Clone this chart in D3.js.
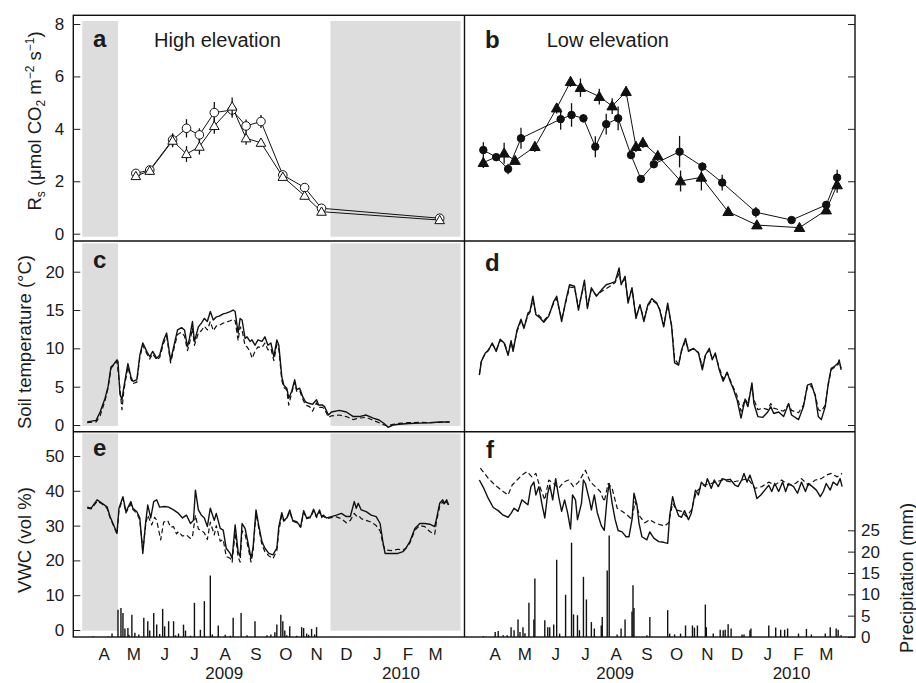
<!DOCTYPE html>
<html>
<head>
<meta charset="utf-8">
<title>Soil respiration, temperature and moisture</title>
<script src="https://cdn.jsdelivr.net/npm/d3@7"></script>
<style>
  body { margin: 0; background: #fff; }
  text { font-family: "Liberation Sans", Arial, Helvetica, sans-serif; fill: #1a1a1a; }
</style>
</head>
<body>
<svg width="916" height="683"></svg>
<script>
// ---- data (days counted from 16 Mar 2009) ----
var monthLabels = ["A","M","J","J","A","S","O","N","D","J","F","M"];
var yearLabels = [{year:"2009", day:152}, {year:"2010", day:330}];
var winterBands = [[9, 45], [259, 390]];

// panel a : high elevation soil respiration
var rsHighDates = ["2009-05-18","2009-06-01","2009-06-24","2009-07-08","2009-07-21","2009-08-05","2009-08-23","2009-09-06","2009-09-21","2009-10-13","2009-11-04","2009-11-21","2010-03-20"];
var rsHighCircle = [2.3,2.43,3.58,4.02,3.77,4.62,4.72,4.11,4.28,2.24,1.76,0.97,0.59];
var rsHighCircleErr = [0.1,0.1,0.25,0.35,0.25,0.4,0.3,0.25,0.25,0.1,0.15,0.1,0.1];
var rsHighTri = [2.2,2.4,3.55,3.04,3.32,4.11,4.85,3.64,3.47,2.17,1.45,0.84,0.52];
var rsHighTriErr = [0.1,0.1,0.25,0.3,0.3,0.3,0.35,0.25,0.15,0.1,0.15,0.1,0.1];

// panel b : low elevation soil respiration
var rsLowCircleDates = ["2009-04-04","2009-04-17","2009-04-29","2009-05-12","2009-06-21","2009-07-02","2009-07-14","2009-07-26","2009-08-06","2009-08-18","2009-08-31","2009-09-10","2009-09-23","2009-10-19","2009-11-11","2009-12-01","2010-01-04","2010-02-09","2010-03-16","2010-03-27"];
var rsLowCircle = [3.19,2.92,2.47,3.64,4.37,4.53,4.4,3.32,4.18,4.4,3.0,2.09,2.65,3.13,2.56,1.95,0.82,0.52,1.1,2.14];
var rsLowCircleErr = [0.3,0.1,0.2,0.4,0.4,0.45,0.15,0.4,0.4,0.45,0.15,0.1,0.1,0.6,0.15,0.3,0.2,0.1,0.1,0.3];
var rsLowTriDates = ["2009-04-04","2009-04-25","2009-05-06","2009-05-26","2009-06-17","2009-07-01","2009-07-11","2009-07-30","2009-08-12","2009-08-26","2009-09-05","2009-09-12","2009-09-27","2009-10-20","2009-11-10","2009-12-07","2010-01-05","2010-02-17","2010-03-16","2010-03-27"];
var rsLowTri = [2.71,3.07,2.79,3.32,4.79,5.8,5.57,5.23,4.87,5.42,3.32,3.47,2.97,2.01,2.15,0.84,0.33,0.23,0.9,1.86];
var rsLowTriErr = [0.2,0.4,0.1,0.2,0.2,0.2,0.35,0.3,0.3,0.2,0.2,0.2,0.2,0.4,0.5,0.1,0.1,0.1,0.1,0.3];

// panel c : soil temperature high elevation [day, degC]
var tempHighSolid = [[14,0.4],[23,0.6],[27,1.7],[32,3.5],[35,5.0],[38,7.6],[40,7.8],[44,8.5],[45,8.3],[47,4.0],[49,3.3],[51,5.0],[55,8.0],[58,6.3],[60,5.7],[64,5.9],[67,9.1],[70,10.7],[74,9.6],[77,8.9],[80,9.6],[84,8.7],[87,9.1],[91,11.1],[94,12.0],[98,8.4],[102,10.7],[105,12.4],[109,12.7],[112,12.4],[115,10.2],[117,11.3],[120,13.5],[122,10.9],[126,12.8],[129,13.3],[132,13.9],[135,13.5],[138,14.8],[141,13.7],[144,14.1],[147,14.2],[151,14.5],[154,14.6],[158,14.8],[161,15.0],[163,14.8],[166,12.0],[168,13.9],[170,13.7],[173,11.3],[175,11.5],[178,10.9],[180,11.1],[183,10.4],[186,11.1],[190,10.9],[193,11.5],[196,10.4],[199,10.7],[202,8.9],[205,11.1],[207,10.4],[210,6.3],[212,5.2],[215,4.8],[217,3.5],[220,4.4],[223,5.9],[225,4.6],[228,4.8],[231,3.7],[234,3.0],[238,2.8],[241,2.7],[245,3.3],[247,2.6],[251,2.6],[253,2.4],[257,1.3],[260,1.7],[268,1.9],[275,1.7],[282,1.1],[288,1.1],[295,1.3],[302,0.9],[308,0.65],[313,0.2],[317,-0.3],[322,0.0],[328,0.1],[338,0.2],[349,0.25],[359,0.3],[369,0.4],[379,0.4]];
var tempHighDashed = [[14,0.3],[23,0.4],[27,1.2],[32,3.2],[35,4.8],[38,7.4],[40,7.7],[44,8.3],[46,6.0],[49,2.0],[51,4.6],[55,7.6],[58,6.0],[60,5.4],[64,5.6],[67,8.8],[70,10.4],[74,9.3],[77,8.6],[80,9.3],[84,8.5],[87,8.8],[91,10.7],[94,11.6],[98,8.1],[102,10.3],[105,11.8],[109,12.1],[112,11.6],[115,9.7],[117,10.6],[120,12.6],[122,10.4],[126,12.0],[129,12.3],[132,12.9],[135,12.4],[138,13.5],[141,12.3],[144,12.9],[147,13.0],[151,13.3],[154,13.4],[158,13.6],[161,13.8],[163,13.6],[166,11.0],[168,12.8],[170,12.4],[173,10.3],[175,10.2],[178,9.6],[180,8.7],[183,9.6],[186,10.2],[190,10.1],[193,10.7],[196,9.8],[199,10.0],[202,8.4],[205,10.5],[207,9.9],[210,5.8],[212,4.9],[215,4.6],[217,2.6],[220,4.2],[223,5.6],[225,4.4],[228,4.5],[231,3.4],[234,2.6],[238,2.4],[241,1.8],[245,2.9],[247,2.3],[251,2.3],[253,2.1],[257,1.0],[260,1.2],[268,1.3],[275,1.1],[282,0.7],[288,0.9],[295,1.0],[302,0.6],[308,0.3],[313,0.0],[317,-0.1],[322,0.1],[328,0.2],[338,0.3],[349,0.35],[359,0.3],[369,0.35],[379,0.4]];

// panel d : soil temperature low elevation
var tempLowSolid = [[15,6.5],[17,8.3],[21,9.4],[24,9.7],[28,10.7],[32,9.6],[36,11.2],[40,10.7],[44,9.1],[47,11.0],[49,9.6],[53,12.4],[57,13.8],[60,12.6],[64,14.6],[66,14.8],[69,16.8],[72,14.4],[76,14.0],[80,13.4],[85,14.2],[90,16.1],[93,16.8],[98,13.5],[102,16.1],[106,18.3],[111,18.1],[115,15.0],[121,18.9],[124,15.2],[128,17.9],[133,16.8],[138,17.6],[143,18.3],[148,18.5],[152,18.7],[156,20.5],[158,18.3],[162,19.4],[165,15.9],[169,17.9],[173,13.9],[177,15.7],[181,13.5],[185,15.7],[189,16.5],[194,15.9],[197,15.0],[201,12.8],[205,15.9],[209,12.8],[212,8.1],[216,7.8],[219,9.8],[223,11.3],[226,9.6],[231,10.0],[236,9.4],[240,7.2],[243,9.1],[247,10.0],[250,8.5],[253,9.4],[257,7.2],[261,5.7],[265,6.9],[268,5.7],[271,4.8],[275,3.3],[279,0.9],[283,3.3],[286,2.4],[290,5.5],[292,2.8],[296,1.1],[301,1.0],[306,1.7],[309,2.4],[312,1.5],[317,1.7],[322,1.1],[327,2.8],[330,1.3],[337,0.7],[342,2.4],[346,5.2],[350,5.4],[354,3.7],[357,1.1],[360,0.7],[364,2.4],[367,5.4],[370,7.4],[373,7.6],[377,8.1],[378,8.5],[380,7.2]];
var tempLowDashed = [[15,6.6],[17,8.4],[21,9.3],[24,9.8],[28,10.5],[32,9.8],[36,11.0],[40,10.8],[44,9.3],[47,10.8],[49,9.8],[53,12.2],[57,13.6],[60,12.8],[64,14.3],[66,14.7],[69,16.3],[72,14.6],[76,14.2],[80,13.6],[85,14.3],[90,15.9],[93,16.5],[98,13.8],[102,15.9],[106,18.0],[111,17.9],[115,15.3],[121,18.5],[124,15.5],[128,17.7],[133,16.9],[138,17.4],[143,17.8],[148,18.2],[152,18.6],[156,19.8],[158,18.5],[162,19.0],[165,16.3],[169,17.7],[173,14.2],[177,15.6],[181,13.8],[185,15.5],[189,16.3],[194,15.8],[197,15.1],[201,13.0],[205,15.6],[209,13.0],[212,8.6],[216,7.9],[219,9.6],[223,11.0],[226,9.8],[231,9.9],[236,9.5],[240,7.6],[243,9.0],[247,9.8],[250,8.7],[253,9.2],[257,7.5],[261,6.0],[265,6.8],[268,5.9],[271,5.0],[275,3.8],[279,1.8],[283,3.4],[286,2.8],[290,5.2],[292,3.3],[296,2.0],[301,2.2],[306,2.0],[309,2.8],[312,2.2],[317,2.0],[322,1.8],[327,2.7],[330,1.9],[337,1.6],[342,2.6],[346,5.0],[350,5.1],[354,3.9],[357,2.0],[360,1.8],[364,2.6],[367,5.2],[370,7.2],[373,7.5],[377,7.9],[378,8.3],[380,7.4]];

// panel e : VWC high elevation
var vwcHighSolid = [[14,35.3],[18,35.0],[24,37.4],[29,36.4],[34,35.4],[37,32.6],[41,29.9],[44,27.8],[46,35.0],[50,38.3],[53,34.0],[58,36.9],[60,35.0],[64,34.0],[67,32.2],[70,22.0],[73,31.3],[75,35.9],[78,32.2],[81,36.9],[84,37.4],[87,35.3],[92,35.5],[96,35.3],[101,34.5],[106,33.5],[110,32.2],[114,33.0],[118,30.6],[121,31.5],[123,40.2],[126,34.5],[129,33.0],[132,32.2],[135,29.7],[138,35.0],[142,31.5],[144,33.5],[148,29.2],[151,28.7],[154,23.5],[158,22.0],[160,20.6],[163,30.2],[166,22.5],[168,21.1],[170,30.6],[173,29.2],[176,25.0],[179,20.6],[181,23.5],[184,34.5],[187,29.7],[190,25.4],[193,23.5],[197,22.0],[201,21.6],[205,23.5],[207,29.7],[210,33.7],[212,31.5],[215,32.2],[218,34.5],[221,31.5],[225,31.1],[229,29.7],[232,34.3],[235,32.2],[239,32.6],[242,34.7],[245,32.6],[248,34.5],[250,32.6],[252,33.0],[255,32.2],[260,32.6],[265,33.0],[270,33.5],[275,32.6],[279,32.6],[283,36.9],[285,35.0],[287,36.4],[290,34.5],[295,34.0],[300,33.0],[305,32.6],[309,30.6],[312,25.0],[314,22.0],[320,22.0],[327,22.0],[332,22.5],[335,23.5],[339,25.4],[344,29.2],[349,30.6],[354,30.6],[359,30.4],[364,29.7],[366,32.2],[369,36.4],[372,37.4],[374,36.4],[376,37.4],[378,35.9]];
var vwcHighDashed = [[14,35.0],[18,34.8],[24,37.0],[29,36.2],[34,35.0],[37,32.3],[41,29.6],[44,27.6],[46,34.5],[50,37.8],[53,33.6],[58,36.2],[60,34.6],[64,33.5],[67,31.6],[70,23.0],[73,30.5],[75,33.0],[79,30.2],[82,32.4],[84,31.5],[88,25.9],[91,31.0],[95,31.5],[98,29.5],[101,29.7],[104,27.6],[106,28.3],[110,27.0],[114,27.3],[118,26.3],[120,26.8],[123,33.0],[126,29.0],[129,28.6],[132,27.9],[135,26.0],[138,31.0],[142,27.3],[144,30.0],[148,25.5],[151,26.0],[154,21.1],[158,20.6],[160,19.5],[163,28.0],[166,21.0],[168,19.5],[170,28.5],[173,27.5],[176,23.8],[179,19.5],[181,22.5],[184,33.5],[187,29.0],[190,24.5],[193,22.5],[197,21.3],[201,20.5],[205,22.8],[207,28.5],[210,33.0],[212,31.2],[215,32.0],[218,34.0],[221,31.3],[225,30.8],[229,29.5],[232,33.8],[235,32.0],[239,32.3],[242,34.2],[245,32.3],[248,34.0],[250,32.3],[252,32.7],[255,32.0],[260,32.3],[265,32.5],[270,32.0],[275,30.8],[279,31.5],[283,33.5],[285,32.8],[287,33.0],[290,32.0],[295,31.5],[300,31.0],[305,30.0],[309,28.5],[312,24.5],[314,23.0],[320,22.8],[327,23.2],[332,23.0],[335,23.5],[339,25.0],[344,28.7],[349,30.0],[354,29.7],[359,28.3],[364,27.5],[366,31.5],[369,35.5],[372,36.8],[374,36.0],[376,37.0],[378,35.5]];

// panel f : VWC low elevation
var vwcLowSolid = [[15,43.1],[19,41.0],[24,37.8],[29,35.2],[34,34.3],[39,33.0],[44,32.4],[47,33.5],[50,35.0],[54,34.1],[58,37.4],[60,36.9],[64,36.0],[67,41.2],[70,42.5],[72,38.8],[75,41.2],[78,36.4],[81,32.2],[84,39.3],[86,41.6],[89,37.4],[92,43.5],[95,38.3],[98,34.1],[101,37.4],[104,33.7],[107,29.0],[109,38.8],[112,37.4],[114,31.7],[118,36.4],[120,43.1],[122,42.1],[126,37.4],[128,34.5],[131,38.8],[134,33.7],[138,30.0],[141,28.6],[144,38.3],[146,42.1],[149,36.4],[152,31.7],[155,28.6],[159,28.2],[163,26.8],[166,26.8],[169,31.7],[171,39.3],[174,36.0],[176,30.8],[179,26.8],[184,25.9],[187,28.2],[191,26.4],[196,25.4],[201,25.2],[205,24.9],[207,32.8],[210,38.3],[212,36.0],[216,32.8],[219,32.4],[222,34.3],[226,31.7],[229,33.7],[233,40.2],[236,38.8],[239,42.5],[243,41.2],[245,43.5],[249,40.7],[252,43.1],[256,41.2],[260,43.5],[264,43.1],[268,43.3],[273,41.6],[276,41.2],[280,43.3],[282,45.0],[285,42.5],[288,44.5],[292,41.2],[295,37.8],[299,38.8],[303,40.2],[307,41.6],[310,39.8],[313,42.1],[317,39.8],[321,42.5],[324,39.8],[327,42.1],[332,41.2],[336,39.3],[340,42.5],[344,39.8],[347,42.1],[351,41.2],[355,40.2],[359,38.3],[362,39.8],[365,42.1],[369,40.2],[372,42.5],[376,41.6],[379,43.5],[381,41.2]];
var vwcLowDashed = [[16,46.5],[24,43.6],[31,41.6],[39,39.8],[44,38.8],[48,41.6],[53,43.1],[58,44.5],[63,45.5],[68,44.0],[72,45.0],[76,41.2],[81,37.4],[85,43.1],[90,42.1],[95,40.7],[100,42.5],[105,43.1],[110,41.2],[115,42.5],[122,45.9],[127,42.5],[132,41.2],[137,39.8],[141,36.9],[145,42.1],[149,40.7],[154,35.0],[159,34.1],[164,33.1],[169,31.7],[172,36.9],[177,32.6],[182,30.8],[187,31.7],[192,30.8],[197,30.3],[202,29.9],[206,30.8],[210,36.4],[214,34.5],[219,34.1],[224,32.6],[229,34.5],[234,39.8],[241,41.6],[249,42.1],[260,43.1],[270,42.5],[280,43.1],[286,43.5],[293,40.7],[300,41.2],[307,42.5],[313,41.6],[320,43.1],[327,41.6],[334,42.1],[340,43.5],[347,41.6],[354,43.1],[360,43.5],[365,44.5],[370,45.0],[376,44.0],[381,45.0]];

// daily precipitation [day, mm]
var precipHigh = [[20,0.2],[35,0.2],[39,0.8],[45,6.4],[48,6.8],[50,5.6],[52,2.0],[55,2.1],[56,0.5],[59,5.2],[62,1.0],[66,0.6],[71,4.5],[75,3.7],[77,1.5],[81,5.6],[84,2.9],[87,0.7],[90,6.6],[92,2.5],[96,3.7],[101,3.7],[103,0.4],[106,0.8],[111,2.9],[113,1.5],[118,0.3],[122,8.0],[128,1.7],[132,8.4],[138,14.4],[140,0.6],[146,2.7],[153,0.5],[158,0.3],[161,4.5],[169,5.6],[175,0.4],[183,3.7],[195,0.4],[199,0.6],[203,1.1],[205,2.9],[209,5.2],[211,3.7],[213,1.5],[215,0.4],[218,2.5],[225,0.3],[230,2.3],[232,2.1],[235,0.8],[237,0.5],[240,1.9],[243,0.6],[245,2.3]];
var precipLow = [[19,0.2],[31,1.2],[34,1.4],[39,0.4],[43,0.4],[47,2.3],[50,1.6],[54,4.1],[56,1.2],[59,2.3],[61,0.9],[65,8.0],[70,4.1],[71,13.7],[81,3.9],[84,2.3],[86,2.3],[90,2.9],[93,18.1],[96,0.8],[102,9.9],[108,22.1],[110,5.3],[114,5.1],[116,1.6],[120,14.1],[123,8.8],[128,3.5],[131,2.0],[138,2.7],[139,4.7],[144,15.6],[146,23.8],[154,0.6],[158,2.0],[162,4.1],[169,6.0],[170,12.1],[171,6.8],[184,0.4],[187,4.7],[205,6.3],[207,0.8],[212,0.6],[218,0.8],[223,2.7],[230,2.7],[232,2.2],[235,2.7],[243,7.6],[244,2.3],[251,0.8],[258,1.7],[261,1.6],[263,1.7],[266,3.0],[269,2.0],[280,0.6],[282,0.6],[288,1.6],[289,2.0],[307,2.7],[314,2.2],[319,1.7],[323,1.7],[326,2.0],[337,0.8],[345,1.9],[350,0.6],[364,0.8],[369,2.3],[375,2.0],[377,1.7],[380,0.4]];

// ---- layout ----
var svg = d3.select("svg");
var L = 73.3, M = 464.5, R = 855;
var rowTop = [15.3, 241, 431.7], rowBottom = 637;
var t0 = new Date(2009, 2, 16);
function dayDate(d) { return new Date(t0.getTime() + d * 864e5); }
var parse = d3.timeParse("%Y-%m-%d");
var xDom = [dayDate(0), dayDate(394)];
var xLeft = d3.scaleTime().domain(xDom).range([L, M]);
var xRight = d3.scaleTime().domain(xDom).range([M, R]);

var yRs = d3.scaleLinear().domain([0, 8]).range([233.7, 24]);
var yT = d3.scaleLinear().domain([0, 20]).range([425, 271.7]);
var yV = d3.scaleLinear().domain([0, 50]).range([630, 456]);
var yP = d3.scaleLinear().domain([0, 25]).range([637, 530.3]);

// gray shading (left column only), vertical extent per row
var bandY = [[21, 236.7], [243.3, 426], [433.5, 630.7]];
bandY.forEach(function(by) {
  svg.selectAll(null).data(winterBands).enter().append("rect")
    .attr("x", function(d){ return xLeft(dayDate(d[0])); })
    .attr("width", function(d){ return xLeft(dayDate(d[1])) - xLeft(dayDate(d[0])); })
    .attr("y", by[0]).attr("height", by[1] - by[0])
    .attr("fill", "#dddddd");
});

// ---- precipitation bars ----
function bars(data, x) {
  svg.append("g").selectAll("line").data(data).enter().append("line")
    .attr("x1", function(d){ return x(dayDate(d[0])); })
    .attr("x2", function(d){ return x(dayDate(d[0])); })
    .attr("y1", yP(0)).attr("y2", function(d){ return yP(d[1]); })
    .attr("stroke", "#111").attr("stroke-width", 1.4);
}
bars(precipHigh, xLeft);
bars(precipLow, xRight);

// ---- daily lines ----
function series(data, x, y, dashed) {
  var line = d3.line().x(function(d){ return x(dayDate(d[0])); }).y(function(d){ return y(d[1]); });
  svg.append("path").datum(data).attr("d", line)
    .attr("fill", "none").attr("stroke", "#111")
    .attr("stroke-width", dashed ? 1.2 : 1.4)
    .attr("stroke-dasharray", dashed ? "5,3" : null)
    .attr("stroke-linejoin", "round");
}
series(tempHighDashed, xLeft, yT, true);
series(tempHighSolid, xLeft, yT, false);
series(tempLowDashed, xRight, yT, true);
series(tempLowSolid, xRight, yT, false);
series(vwcHighDashed, xLeft, yV, true);
series(vwcHighSolid, xLeft, yV, false);
series(vwcLowDashed, xRight, yV, true);
series(vwcLowSolid, xRight, yV, false);

// ---- respiration panels ----
function rsSeries(dates, vals, errs, x) {
  var pts = dates.map(function(d, i){ return {date: parse(d), v: vals[i], e: errs[i]}; });
  var line = d3.line().x(function(d){ return x(d.date); }).y(function(d){ return yRs(d.v); });
  svg.append("path").datum(pts).attr("d", line)
    .attr("fill", "none").attr("stroke", "#111").attr("stroke-width", 1);
  return pts;
}
function rsMarks(pts, x, shape, filled) {
  var g = svg.append("g");
  g.selectAll("line").data(pts).enter().append("line")
    .attr("x1", function(d){ return x(d.date); }).attr("x2", function(d){ return x(d.date); })
    .attr("y1", function(d){ return yRs(d.v - d.e); }).attr("y2", function(d){ return yRs(d.v + d.e); })
    .attr("stroke", "#111").attr("stroke-width", 1.3);
  var sym = shape === "circle"
    ? d3.symbol().type(d3.symbolCircle).size(filled ? 44 : 58)
    : d3.symbol().type(d3.symbolTriangle).size(filled ? 48 : 40);
  g.selectAll("path").data(pts).enter().append("path")
    .attr("d", sym)
    .attr("transform", function(d){ return "translate(" + x(d.date) + "," + (yRs(d.v) + (shape === "circle" ? 0 : 0.8)) + ")"; })
    .attr("fill", filled ? "#111" : "#fff")
    .attr("stroke", "#111").attr("stroke-width", 1);
}
var aC = rsSeries(rsHighDates, rsHighCircle, rsHighCircleErr, xLeft);
var aT = rsSeries(rsHighDates, rsHighTri, rsHighTriErr, xLeft);
rsMarks(aC, xLeft, "circle", false);
rsMarks(aT, xLeft, "triangle", false);
var bC = rsSeries(rsLowCircleDates, rsLowCircle, rsLowCircleErr, xRight);
var bT = rsSeries(rsLowTriDates, rsLowTri, rsLowTriErr, xRight);
rsMarks(bC, xRight, "circle", true);
rsMarks(bT, xRight, "triangle", true);

// ---- frame ----
var frame = svg.append("g").attr("stroke", "#111").attr("stroke-width", 1.4).attr("fill", "none");
frame.append("rect").attr("x", L).attr("y", rowTop[0]).attr("width", R - L).attr("height", rowBottom - rowTop[0]);
frame.append("line").attr("x1", M).attr("x2", M).attr("y1", rowTop[0]).attr("y2", rowBottom);
frame.append("line").attr("x1", L).attr("x2", R).attr("y1", rowTop[1]).attr("y2", rowTop[1]);
frame.append("line").attr("x1", L).attr("x2", R).attr("y1", rowTop[2]).attr("y2", rowTop[2]);

// ---- axes ----
function styleAxis(g, size) {
  g.select(".domain").remove();
  g.selectAll(".tick line").attr("stroke", "#222").attr("stroke-width", 1);
  g.selectAll(".tick text").style("font-size", size + "px").attr("fill", "#1a1a1a")
    .style("font-family", "'Liberation Sans', Arial, Helvetica, sans-serif");
}
function leftAxis(y, vals) {
  svg.append("g").attr("transform", "translate(" + L + ",0)")
    .call(d3.axisLeft(y).tickValues(vals).tickSize(-7).tickPadding(9))
    .call(styleAxis, 17);
}
function rightAxis(y, vals, labels) {
  var ax = d3.axisRight(y).tickValues(vals).tickSize(-7).tickPadding(6);
  if (!labels) ax.tickFormat("");
  svg.append("g").attr("transform", "translate(" + R + ",0)").call(ax).call(styleAxis, 17);
}
leftAxis(yRs, [0, 2, 4, 6, 8]);
leftAxis(yT, [0, 5, 10, 15, 20]);
leftAxis(yV, [0, 10, 20, 30, 40, 50]);
rightAxis(yRs, [0, 2, 4, 6, 8], false);
rightAxis(yT, [0, 5, 10, 15, 20], false);
rightAxis(yP, [0, 5, 10, 15, 20, 25], true);

// month and year labels
var monthDates = d3.timeMonth.range(new Date(2009, 3, 1), new Date(2010, 3, 1))
  .map(function(d){ return d3.timeDay.offset(d, 15); });
[xLeft, xRight].forEach(function(x) {
  svg.append("g").selectAll("text").data(monthDates).enter().append("text")
    .attr("x", function(d){ return x(d); }).attr("y", 660)
    .attr("text-anchor", "middle").style("font-size", "17px")
    .text(function(d, i){ return monthLabels[i]; });
  svg.append("g").selectAll("text").data(yearLabels).enter().append("text")
    .attr("x", function(d){ return x(dayDate(d.day)); }).attr("y", 678.5)
    .attr("text-anchor", "middle").style("font-size", "17px")
    .text(function(d){ return d.year; });
});

// panel letters and titles
var letters = [["a", 93, 47], ["b", 485, 48], ["c", 93, 268], ["d", 485, 271], ["e", 93, 456], ["f", 486, 458]];
svg.selectAll(".plabel").data(letters).enter().append("text").attr("class", "plabel")
  .attr("x", function(d){ return d[1]; }).attr("y", function(d){ return d[2]; })
  .style("font-size", "24px").style("font-weight", "bold").text(function(d){ return d[0]; });
svg.append("text").attr("x", 154).attr("y", 47).style("font-size", "20px").text("High elevation");
svg.append("text").attr("x", 546.7).attr("y", 47).style("font-size", "20px").text("Low elevation");

// axis titles
var rsTitle = svg.append("text").attr("transform", "translate(40.5,121) rotate(-90)")
  .attr("text-anchor", "middle").style("font-size", "18.5px");
rsTitle.append("tspan").text("R");
rsTitle.append("tspan").attr("dy", 4).style("font-size", "12px").text("s");
rsTitle.append("tspan").attr("dy", -4).text(" (\u03bcmol CO");
rsTitle.append("tspan").attr("dy", 4).style("font-size", "12px").text("2");
rsTitle.append("tspan").attr("dy", -4).text(" m");
rsTitle.append("tspan").attr("dy", -7).style("font-size", "12px").text("\u22122");
rsTitle.append("tspan").attr("dy", 7).text(" s");
rsTitle.append("tspan").attr("dy", -7).style("font-size", "12px").text("\u22121");
rsTitle.append("tspan").attr("dy", 7).text(")");

svg.append("text").attr("transform", "translate(30.5,342) rotate(-90)")
  .attr("text-anchor", "middle").style("font-size", "18.5px").text("Soil temperature (\u00b0C)");
svg.append("text").attr("transform", "translate(30.5,540) rotate(-90)")
  .attr("text-anchor", "middle").style("font-size", "18.5px").text("VWC (vol %)");
svg.append("text").attr("transform", "translate(913,578) rotate(-90)")
  .attr("text-anchor", "middle").style("font-size", "18.5px").text("Precipitation (mm)");
</script>
</body>
</html>
